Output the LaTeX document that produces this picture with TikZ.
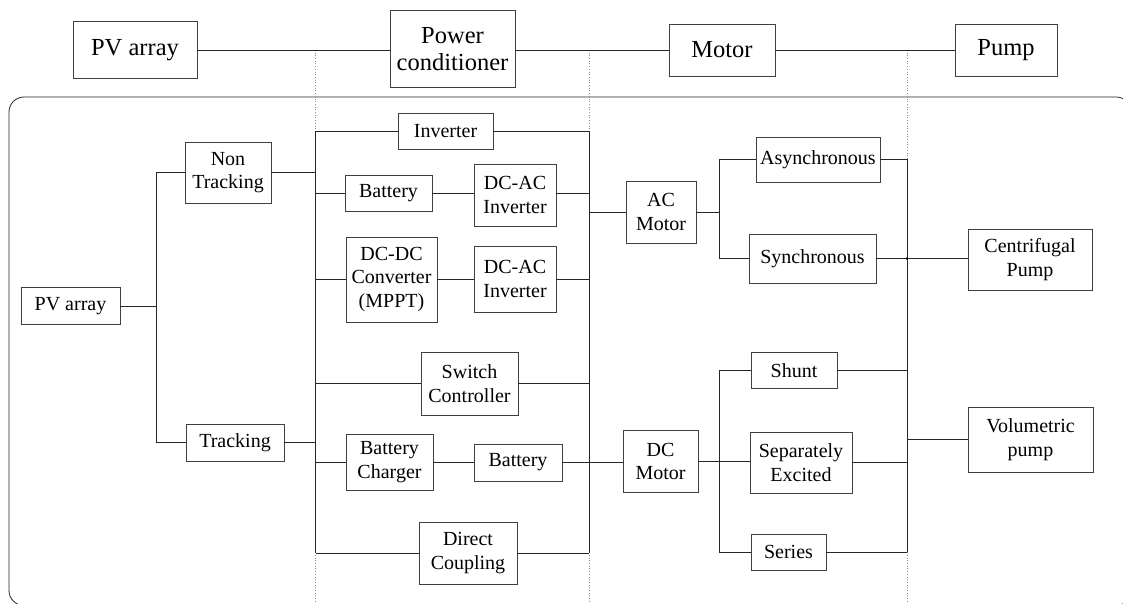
\documentclass[tikz,border=0pt]{standalone}
\usepackage{fontspec}
\setmainfont{Liberation Serif}
\newfontfamily\boxfont{Liberation Serif}
\begin{document}
\begin{tikzpicture}[x=1pt,y=-1pt,
  line/.style={draw=black!85, line width=0.8pt},
  box/.style={draw=black!75, line width=0.8pt, inner sep=0pt, align=center, fill=white,
              font=\boxfont\fontsize{20}{23.5}\selectfont},
  topbox/.style={box, font=\boxfont\fontsize{24.5}{26.5}\selectfont},
  dotline/.style={draw=black!45, line width=0.7pt, dotted}]
\useasboundingbox (0,0) rectangle (1123,604);
% frame
\draw[line, rounded corners=15pt] (9,97) rectangle (1131,605.5);
% dotted guide lines
\draw[dotline] (315.5,50) -- (315.5,604);
\draw[dotline] (589,50) -- (589,604);
\draw[dotline] (907,50) -- (907,604);
% top row
\node[topbox, minimum width=124pt, minimum height=57pt] (pvtop) at (135,50) {PV array};
\node[topbox, minimum width=125pt, minimum height=77pt] (pc) at (452.5,49) {Power\\conditioner};
\node[topbox, minimum width=106pt, minimum height=52pt] (motor) at (722,50) {Motor};
\node[topbox, minimum width=102pt, minimum height=52pt] (pump) at (1006,50) {Pump};
\draw[line] (pvtop.east) -- (pvtop.east -| pc.west);
\draw[line] (pc.east |- motor.west) -- (motor.west);
\draw[line] (motor.east) -- (pump.west);
% bus coordinates
\coordinate (xL) at (156,0);
\coordinate (xA) at (315.5,0);
\coordinate (xB) at (589,0);
\coordinate (xS) at (719,0);
\coordinate (xC) at (907,0);
% inner boxes
\node[box, minimum width=99pt, minimum height=37pt] (pv) at (70.5,306) {PV array};
\node[box, minimum width=86pt, minimum height=61pt] (nontrack) at (228,172.5) {Non\\Tracking};
\node[box, minimum width=98pt, minimum height=37pt] (track) at (235,442.5) {Tracking};
\node[box, minimum width=95pt, minimum height=36pt] (inverter) at (445.5,131) {Inverter};
\node[box, minimum width=87pt, minimum height=36pt] (battery1) at (388.5,193) {Battery};
\node[box, minimum width=82pt, minimum height=62pt] (dcac1) at (515,195) {DC-AC\\Inverter};
\node[box, minimum width=91pt, minimum height=85pt] (dcdc) at (391.5,279.5) {DC-DC\\Converter\\(MPPT)};
\node[box, minimum width=82pt, minimum height=66pt] (dcac2) at (515,279) {DC-AC\\Inverter};
\node[box, minimum width=97pt, minimum height=63pt] (switch) at (469.5,383.5) {Switch\\Controller};
\node[box, minimum width=87pt, minimum height=56pt] (charger) at (389.5,462) {Battery\\Charger};
\node[box, minimum width=88pt, minimum height=37pt] (battery2) at (518,462.5) {Battery};
\node[box, minimum width=98pt, minimum height=62pt] (direct) at (468,553) {Direct\\Coupling};
\node[box, minimum width=70pt, minimum height=62pt] (acmotor) at (661,212) {AC\\Motor};
\node[box, minimum width=75pt, minimum height=62pt] (dcmotor) at (660.5,461.5) {DC\\Motor};
\node[box, minimum width=124pt, minimum height=45pt] (async) at (818,159.5) {Asynchronous};
\node[box, minimum width=127pt, minimum height=49pt] (sync) at (812.5,258.5) {Synchronous};
\node[box, minimum width=86pt, minimum height=36pt] (shunt) at (794,370.5) {Shunt};
\node[box, minimum width=102pt, minimum height=61pt] (sepexc) at (801,462.5) {Separately\\Excited};
\node[box, minimum width=75pt, minimum height=36pt] (series) at (788.5,552) {Series};
\node[box, minimum width=124pt, minimum height=61pt] (centri) at (1030,259.5) {Centrifugal\\Pump};
\node[box, minimum width=125pt, minimum height=65pt] (volu) at (1030.5,439.5) {Volumetric\\pump};
% PV array bracket
\draw[line] (pv.east) -- (pv.east -| xL);
\draw[line] (nontrack.west -| xL) -- (track.west -| xL);
\draw[line] (nontrack.west -| xL) -- (nontrack.west);
\draw[line] (track.west -| xL) -- (track.west);
% bus A
\draw[line] (inverter.west -| xA) -- (direct.west -| xA);
\draw[line] (nontrack.east) -- (nontrack.east -| xA);
\draw[line] (track.east) -- (track.east -| xA);
\draw[line] (inverter.west -| xA) -- (inverter.west);
\draw[line] (battery1.west -| xA) -- (battery1.west);
\draw[line] (dcdc.west -| xA) -- (dcdc.west);
\draw[line] (switch.west -| xA) -- (switch.west);
\draw[line] (charger.west -| xA) -- (charger.west);
\draw[line] (direct.west -| xA) -- (direct.west);
% middle links
\draw[line] (battery1.east) -- (battery1.east -| dcac1.west);
\draw[line] (dcdc.east |- dcac2.west) -- (dcac2.west);
\draw[line] (charger.east) -- (charger.east -| battery2.west);
% bus B
\draw[line] (inverter.east -| xB) -- (direct.east -| xB);
\draw[line] (inverter.east) -- (inverter.east -| xB);
\draw[line] (dcac1.east |- battery1.east) -- (battery1.east -| xB);
\draw[line] (dcac2.east) -- (dcac2.east -| xB);
\draw[line] (switch.east) -- (switch.east -| xB);
\draw[line] (direct.east) -- (direct.east -| xB);
\draw[line] (acmotor.west -| xB) -- (acmotor.west);
\draw[line] (battery2.east) -- (battery2.east -| dcmotor.west);
% AC motor split
\draw[line] (acmotor.east) -- (acmotor.east -| xS);
\draw[line] (async.west -| xS) -- (sync.west -| xS);
\draw[line] (async.west -| xS) -- (async.west);
\draw[line] (sync.west -| xS) -- (sync.west);
% DC motor split
\draw[line] (dcmotor.east) -- (dcmotor.east -| sepexc.west);
\draw[line] (shunt.west -| xS) -- (series.west -| xS);
\draw[line] (shunt.west -| xS) -- (shunt.west);
\draw[line] (series.west -| xS) -- (series.west);
% bus C
\draw[line] (async.east -| xC) -- (series.east -| xC);
\draw[line] (async.east) -- (async.east -| xC);
\draw[line] (sync.east) -- (sync.east -| centri.west);
\draw[line] (shunt.east) -- (shunt.east -| xC);
\draw[line] (sepexc.east) -- (sepexc.east -| xC);
\draw[line] (series.east) -- (series.east -| xC);
\draw[line] (volu.west -| xC) -- (volu.west);
\fill[black] (sync.east -| xC) circle (1.3pt);
\end{tikzpicture}
\end{document}
